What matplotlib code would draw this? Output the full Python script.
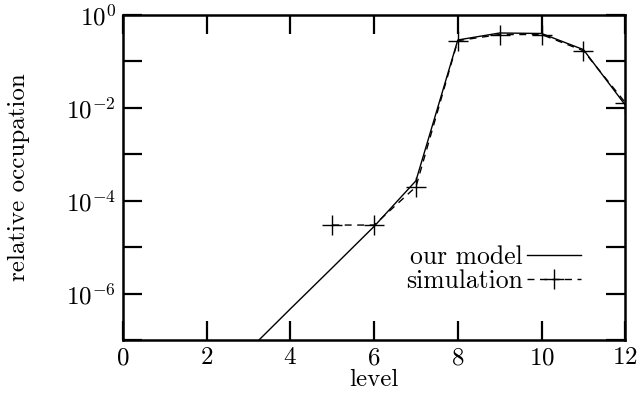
import matplotlib
matplotlib.use("Agg")
import matplotlib.pyplot as plt
from matplotlib.ticker import LogFormatterSciNotation, NullFormatter, FixedLocator

plt.rcParams['font.family'] = ['cmr10', 'DejaVu Serif']
plt.rcParams['mathtext.fontset'] = 'cm'
plt.rcParams['axes.formatter.use_mathtext'] = True

# data
model_level = [3, 4, 5, 6, 7, 8, 9, 10, 11, 12]
model_occ = [6.0e-8, 4.7e-7, 3.6e-6, 2.8e-5, 2.7e-4, 0.29, 0.41, 0.40, 0.18, 0.0115]
sim_level = [5, 6, 7, 8, 9, 10, 11, 12]
sim_occ = [3.0e-5, 3.0e-5, 2.0e-4, 0.28, 0.38, 0.38, 0.17, 0.013]
x_ticks = [0, 2, 4, 6, 8, 10, 12]
y_major = [1e0, 1e-2, 1e-4, 1e-6]
y_minor = [1e-1, 1e-3, 1e-5, 1e-7]

fig = plt.figure(figsize=(6.4, 3.95), dpi=100)
ax = fig.add_axes([0.192, 0.139, 0.785, 0.823])

ax.plot(model_level, model_occ, color='black', lw=1.0, label='our model')
ax.plot(sim_level, sim_occ, color='black', lw=1.0, ls=(0, (5, 4)), marker='+',
        markersize=14, markeredgewidth=1.0, label='simulation')

ax.set_yscale('log')
ax.set_xlim(0, 12)
ax.set_ylim(1e-7, 1e0)
ax.xaxis.set_major_locator(FixedLocator(x_ticks))
ax.yaxis.set_major_locator(FixedLocator(y_major))
ax.yaxis.set_minor_locator(FixedLocator(y_minor))
ax.yaxis.set_major_formatter(LogFormatterSciNotation())
ax.yaxis.set_minor_formatter(NullFormatter())

ax.tick_params(which='both', direction='in', top=True, right=True, length=14, width=1.6,
               labelsize=18, pad=5)
for s in ax.spines.values():
    s.set_linewidth(1.8)

ax.set_xlabel('level', fontsize=18, labelpad=0)
ax.set_ylabel('relative occupation', fontsize=18, labelpad=26)

ax.legend(loc='lower right', bbox_to_anchor=(0.937, 0.105), frameon=False, markerfirst=False,
          fontsize=18.5, handlelength=2.1, handletextpad=0.15, labelspacing=0.0, borderpad=0)

fig.savefig('out.png', dpi=100)
